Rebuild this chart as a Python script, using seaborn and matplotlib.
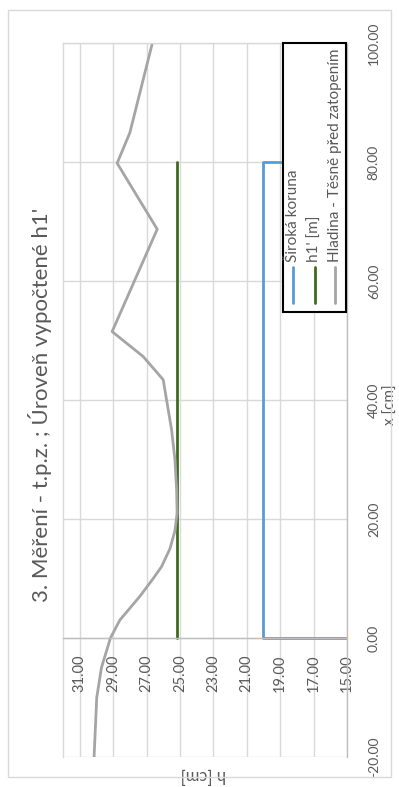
import matplotlib
matplotlib.use("Agg")
import matplotlib.pyplot as plt
from matplotlib.patches import Rectangle
import seaborn as sns
import pandas as pd

# ---- data -------------------------------------------------------------
title = "3. Měření - t.p.z. ; Úroveň vypočtené h1'"
x_label = "x [cm]"
h_label = "h [cm]"
series_names = ["Široká koruna", "h1' [m]", "Hladina - Těsně před zatopením"]

# crest outline (x in cm, h in cm)
crest_x = [0.0, 0.0, 80.0, 80.0]
crest_h = [15.0, 20.0, 20.0, 15.0]

# computed level h1'
h1_x = [0.0, 80.0]
h1_h = [25.2, 25.2]

# measured water surface just before submergence
surf_x = [-20, -10, -5, 0, 3, 5, 7, 10, 12, 15, 18, 21, 25, 30, 35, 40,
          43.4, 47.3, 51.5, 68.7, 79.8, 84.9, 100]
surf_h = [30.14, 29.98, 29.7, 29.16, 28.6, 28.0, 27.4, 26.6, 26.1, 25.6, 25.3,
          25.17, 25.2, 25.3, 25.5, 25.8, 26.0, 27.2, 29.06, 26.36, 28.76, 28.0,
          26.65]

x_ticks = [-20, 0, 20, 40, 60, 80, 100]
h_ticks = [15, 17, 19, 21, 23, 25, 27, 29, 31]

colors = ["#5b9bd5", "#3e6b1f", "#a5a5a5"]
text_color = "#595959"
grid_color = "#d9d9d9"

# ---- styling ----------------------------------------------------------
sns.set_theme(style="white")
plt.rcParams["font.family"] = ["Lato", "DejaVu Sans"]

W, H = 399, 787
fig = plt.figure(figsize=(W / 100, H / 100), dpi=100)
fig.patch.set_facecolor("white")

# chart frame
fig.add_artist(Rectangle((8 / W, 1 - 777 / H), (391 - 8) / W, (777 - 10) / H,
                         transform=fig.transFigure, fill=False,
                         edgecolor=grid_color, lw=1.0))

# the chart is laid out turned a quarter turn: h runs across, x runs up
ax = fig.add_axes([63 / W, 1 - 757 / H, (347 - 63) / W, (757 - 43) / H])

frames = [
    pd.DataFrame({"x": crest_x, "h": crest_h}),
    pd.DataFrame({"x": h1_x, "h": h1_h}),
    pd.DataFrame({"x": surf_x, "h": surf_h}),
]
for df, c in zip(frames, colors):
    sns.lineplot(data=df, x="h", y="x", ax=ax, sort=False, estimator=None,
                 orient="y", color=c, lw=2.0, legend=False)

ax.set_xlim(32, 15)
ax.set_ylim(-20, 100)
ax.set_xticks(h_ticks)
ax.set_xticklabels([f"{v:.2f}" for v in h_ticks])
ax.set_yticks(x_ticks)
ax.set_yticklabels([f"{v:.2f}" for v in x_ticks])
ax.set_xlabel("")
ax.set_ylabel("")

ax.grid(True, color=grid_color, lw=1.0)
ax.set_axisbelow(True)

ax.spines["bottom"].set_position(("data", 0))
ax.spines["bottom"].set_color("#bfbfbf")
ax.spines["right"].set_color("#bfbfbf")
ax.spines["left"].set_color(grid_color)
ax.spines["top"].set_color(grid_color)
for s in ax.spines.values():
    s.set_linewidth(1.0)
    s.set_visible(True)

ax.yaxis.tick_right()
ax.tick_params(axis="x", length=0, pad=12, labelrotation=90, labelsize=10.5,
               labelcolor=text_color)
ax.tick_params(axis="y", length=0, pad=15, labelrotation=90, labelsize=10,
               labelcolor=text_color)
for lab in ax.get_yticklabels():
    lab.set_verticalalignment("center")

# titles
ax.text(-0.081, 0.493, title, transform=ax.transAxes, rotation=90,
        ha="center", va="center", fontsize=16, color=text_color)
ax.text(1.155, 0.494, x_label, transform=ax.transAxes, rotation=90,
        ha="center", va="center", fontsize=11, color=text_color)
ax.text(0.493, -0.025, h_label, transform=ax.transAxes, rotation=180,
        ha="center", va="center", fontsize=12, color=text_color)

# legend box
ax.add_patch(Rectangle((0.775, 0.623), 0.996 - 0.775, 1.0 - 0.623,
                       transform=ax.transAxes, facecolor="white",
                       edgecolor="black", lw=1.5, zorder=5, clip_on=False))
for xp, name, c in zip([0.810, 0.887, 0.958], series_names, colors):
    ax.plot([xp, xp], [0.636, 0.686], transform=ax.transAxes, color=c,
            lw=2.0, zorder=6, clip_on=False)
    ax.text(xp, 0.693, name, transform=ax.transAxes, rotation=90,
            ha="center", va="bottom", fontsize=11, color=text_color, zorder=6)

fig.savefig("out.png", dpi=100)
